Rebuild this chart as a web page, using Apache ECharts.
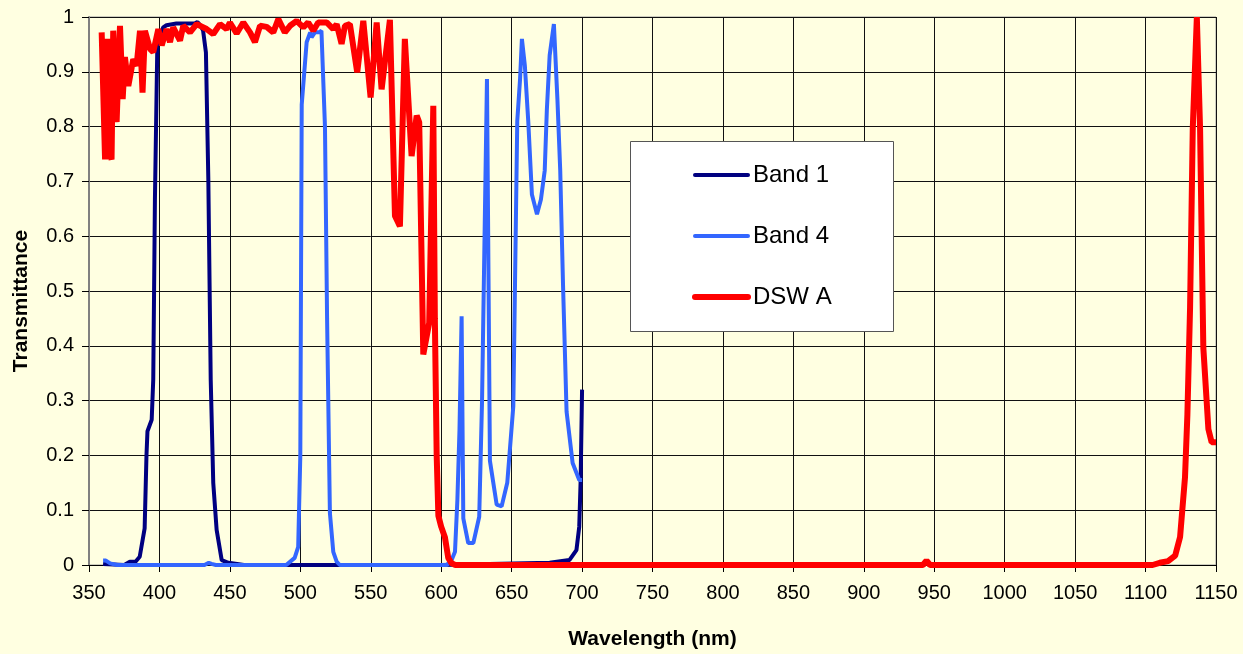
<!DOCTYPE html>
<html>
<head>
<meta charset="utf-8">
<script src="https://cdn.jsdelivr.net/npm/echarts@6/dist/echarts.min.js"></script>
<style>
  html, body { margin: 0; padding: 0; background: #FFFFE1; }
  #chart { width: 1243px; height: 654px; }
</style>
</head>
<body>
<div id="chart"></div>
<script>
  // wavelength (nm) / transmittance
  var band1Wl = [360, 375, 379, 383, 386, 389.5, 390.8, 391.5, 394.5, 395.6, 396.8, 398.5, 400, 402.7, 405, 412, 425, 427, 429.3, 431, 433, 434.7, 436.4, 438.2, 440.6, 444.2, 449, 460, 520, 600, 677, 691, 696, 698, 699, 700];
  var band1T = [0.002, 0, 0.006, 0.006, 0.015, 0.067, 0.2, 0.244, 0.265, 0.338, 0.667, 0.948, 0.965, 0.981, 0.985, 0.988, 0.988, 0.991, 0.984, 0.975, 0.935, 0.704, 0.338, 0.15, 0.064, 0.009, 0.004, 0, 0, 0, 0.004, 0.009, 0.027, 0.07, 0.155, 0.32];

  var band4Wl = [360, 362, 365, 370, 432, 435, 437, 440, 490, 496, 498.5, 500, 501, 504.5, 507, 508, 510.4, 513.5, 515, 517.5, 519, 521, 523.4, 525.8, 528, 560, 604, 607.4, 609.8, 611.5, 613, 614.5, 615.7, 619.2, 622.8, 627, 629, 632.5, 634.6, 639.4, 642.9, 646.9, 651.2, 654, 656, 657.3, 659.4, 661.8, 664.4, 668, 670.8, 673.5, 675, 677, 680, 682.5, 684.5, 686.5, 689, 693.3, 698, 700];
  var band4T = [0.008, 0.008, 0.003, 0, 0, 0.004, 0.002, 0, 0, 0.013, 0.033, 0.2, 0.84, 0.954, 0.972, 0.963, 0.972, 0.972, 0.975, 0.8, 0.45, 0.095, 0.024, 0.006, 0, 0, 0, 0.009, 0.024, 0.119, 0.247, 0.454, 0.085, 0.04, 0.04, 0.088, 0.3, 0.887, 0.19, 0.11, 0.107, 0.15, 0.29, 0.81, 0.887, 0.96, 0.911, 0.81, 0.676, 0.64, 0.667, 0.72, 0.83, 0.93, 0.987, 0.85, 0.72, 0.51, 0.28, 0.186, 0.155, 0.155];

  var dswWl = [359, 361.4, 363, 364.5, 366, 367.2, 369.6, 372, 373.9, 375.5, 377.9, 381.4, 383.8, 386.2, 388, 389.7, 393.3, 395.6, 399.2, 401.6, 405.1, 407.5, 409.8, 414.6, 416.9, 421.7, 426.4, 433.5, 438.2, 443, 447.7, 450, 454.8, 459.5, 464.3, 467.8, 471.4, 476.1, 480.8, 484.4, 489, 492.7, 497.4, 502.1, 505.6, 509.2, 512.7, 518.7, 523.4, 525.8, 529.3, 531.7, 535.2, 540.4, 544.7, 549.9, 554.2, 557.7, 563.6, 567.2, 570.7, 574.2, 575.5, 579, 582.6, 584.4, 587.3, 591.5, 594.4, 595.5, 596.8, 598, 600, 602.7, 605, 607.4, 610, 942, 944.5, 947, 1105, 1110, 1116, 1121, 1124.5, 1128, 1129.7, 1131.6, 1133.5, 1136.4, 1138.7, 1141, 1144.6, 1146.9, 1150];
  var dswT = [0.972, 0.74, 0.96, 0.75, 0.74, 0.975, 0.808, 0.984, 0.85, 0.927, 0.874, 0.923, 0.911, 0.975, 0.862, 0.975, 0.942, 0.936, 0.978, 0.948, 0.978, 0.954, 0.981, 0.957, 0.984, 0.972, 0.987, 0.978, 0.969, 0.987, 0.978, 0.99, 0.97, 0.99, 0.972, 0.954, 0.984, 0.982, 0.972, 0.996, 0.972, 0.984, 0.993, 0.981, 0.99, 0.975, 0.99, 0.99, 0.978, 0.987, 0.951, 0.984, 0.987, 0.899, 0.993, 0.853, 0.99, 0.868, 0.995, 0.637, 0.618, 0.96, 0.96, 0.746, 0.82, 0.808, 0.384, 0.442, 0.838, 0.45, 0.2, 0.09, 0.07, 0.05, 0.013, 0.003, 0, 0, 0.008, 0, 0, 0.004, 0.007, 0.017, 0.051, 0.16, 0.275, 0.47, 0.796, 1.0, 0.796, 0.397, 0.248, 0.224, 0.224];

  var seriesNames = ['Band 1', 'Band 4', 'DSW A'];
  var seriesColors = ['#000080', '#3366FF', '#FF0000'];
  var seriesWidths = [4, 4, 6];

  function pairs(xs, ys) {
    var out = [];
    for (var i = 0; i < xs.length; i++) {
      out.push([xs[i], ys[i]]);
    }
    return out;
  }

  var font = '"Liberation Sans", Arial, sans-serif';
  var chart = echarts.init(document.getElementById('chart'), null, {renderer: 'canvas'});

  var legendData = seriesNames.map(function (n, i) {
    return {name: n, lineStyle: {width: seriesWidths[i], color: seriesColors[i], cap: 'round'}};
  });

  var series = [pairs(band1Wl, band1T), pairs(band4Wl, band4T), pairs(dswWl, dswT)].map(function (d, i) {
    return {
      name: seriesNames[i], type: 'line', symbol: 'none',
      data: d,
      lineStyle: {color: seriesColors[i], width: seriesWidths[i]},
      itemStyle: {color: seriesColors[i]}
    };
  });

  chart.setOption({
    backgroundColor: '#FFFFE1',
    animation: false,
    textStyle: {fontFamily: font, color: '#000'},
    grid: {
      left: 89, right: 27, top: 17, bottom: 89,
      outerBoundsMode: 'none',
      containLabel: false,
      show: true,
      borderColor: '#9a9a9a',
      borderWidth: 1
    },
    graphic: [{
      type: 'rect',
      left: 630, top: 141,
      shape: {width: 263, height: 190},
      style: {fill: '#fff', stroke: '#555', lineWidth: 1},
      z: 5
    }],
    legend: {
      orient: 'vertical',
      left: 692, top: 163,
      padding: 0,
      itemWidth: 53, itemHeight: 24,
      itemGap: 37,
      data: legendData,
      itemStyle: {opacity: 0},
      textStyle: {fontFamily: font, fontSize: 24, color: '#000'},
      z: 10
    },
    xAxis: {
      type: 'value',
      min: 350, max: 1150, interval: 50,
      name: 'Wavelength (nm)',
      nameLocation: 'middle',
      nameGap: 64,
      nameTextStyle: {fontFamily: font, fontSize: 21, fontWeight: 'bold', color: '#000'},
      axisLine: {show: true, onZero: false, lineStyle: {color: '#000', width: 1}},
      axisTick: {show: true, length: 7, lineStyle: {color: '#000'}},
      axisLabel: {fontFamily: font, fontSize: 20, color: '#000', margin: 18,
        formatter: function (v) { return String(v); }},
      splitLine: {show: true, lineStyle: {color: '#111', width: 1}}
    },
    yAxis: {
      type: 'value',
      min: 0, max: 1, interval: 0.1,
      name: 'Transmittance',
      nameLocation: 'middle',
      nameGap: 57,
      nameTextStyle: {fontFamily: font, fontSize: 21, fontWeight: 'bold', color: '#000', padding: [0, 20, 0, 0]},
      axisLine: {show: true, lineStyle: {color: '#808080', width: 2}},
      axisTick: {show: true, length: 7, lineStyle: {color: '#000'}},
      axisLabel: {fontFamily: font, fontSize: 20, color: '#000', margin: 15},
      splitLine: {show: true, lineStyle: {color: '#111', width: 1}}
    },
    series: series
  });
</script>
</body>
</html>
